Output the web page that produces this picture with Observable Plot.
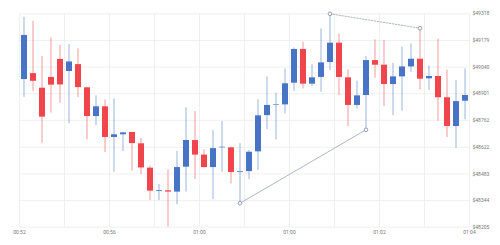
<!DOCTYPE html>
<html>
<head>
<meta charset="utf-8">
<script src="https://cdn.jsdelivr.net/npm/d3@7"></script>
<script src="https://cdn.jsdelivr.net/npm/@observablehq/plot@0.6"></script>
<style>
  html, body { margin: 0; padding: 0; background: #fff; }
  #chart { width: 500px; height: 245px; overflow: hidden; }
</style>
</head>
<body>
<div id="chart"></div>
<script>
// OHLC values for 50 candles
const opens  = [48975,49006,48930,48986,49080,49017,49053,48932,48782,48833,
                48673,48687,48699,48640,48513,48392,48395,48388,48518,48657,
                48581,48516,48619,48619,48490,48495,48598,48787,48840,48843,
                48956,49132,48951,48986,49064,49165,48984,48840,48892,49074,
                49050,48949,48989,49041,49081,48979,48991,48880,48730,48862];
const closes = [49205,48966,48779,48946,48947,49067,48933,48782,48833,48673,
                48687,48697,48641,48514,48393,48396,48388,48516,48657,48581,
                48516,48615,48622,48490,48494,48596,48786,48840,48843,48953,
                49132,48951,48984,49062,49165,48986,48840,48890,49074,49050,
                48949,48989,49041,49081,48977,48991,48880,48730,48860,48892];
const highs  = [49300,49278,49095,49191,49153,49158,49135,48935,48890,48869,
                48874,48699,48700,48667,48523,48428,48504,48600,48827,48808,
                48608,48709,48756,48622,48640,48605,48869,48989,48904,49031,
                49140,49170,49053,49239,49318,49213,49026,48966,49095,49182,
                49179,49060,49144,49161,49243,49046,49186,49024,48970,49031];
const lows   = [48883,48913,48643,48800,48852,48744,48880,48660,48735,48594,
                48492,48600,48497,48480,48344,48344,48205,48322,48388,48454,
                48514,48349,48492,48431,48330,48454,48501,48714,48660,48796,
                48913,48926,48939,48909,49022,48892,48730,48822,48713,48982,
                48834,48787,48810,49013,48921,48918,48758,48673,48617,48765];

// axis ticks
const yTicks = [48205,48344,48483,48622,48762,48901,49040,49179,49318];
const xTickLabels = ["00:52","00:56","01:00","01:00","01:02","01:04"];
const xTickPos = [-0.5, 9.5, 19.5, 29.5, 39.5, 49.5];      // candle-index positions of labels
const xGridPos = [-0.5,4.5,9.5,14.5,19.5,24.5,29.5,34.5,39.5,44.5,49.5];

// trend annotations (candle indices)
const supportIdx = [24, 38];     // solid line through lows
const resistIdx  = [34, 44];     // dotted line through highs

const data = opens.map((o, i) => ({
  i, open: o, close: closes[i], high: highs[i], low: lows[i],
  up: closes[i] >= o
}));

const BLUE = "#4874c6";
const RED = "#f0454c";
const ANN = "#9aa3b4";

const support = supportIdx.map(k => ({i: k, v: data[k].low}));
const resist  = resistIdx.map(k => ({i: k, v: data[k].high}));

const chart = Plot.plot({
  width: 500,
  height: 245,
  marginLeft: 19,
  marginRight: 31,
  marginTop: 13.3,
  marginBottom: 18.3,
  style: { fontFamily: "Roboto, 'Liberation Sans', sans-serif", fontSize: "5px", color: "#777", background: "#fff" },
  x: { type: "linear", domain: [-0.5, 49.5] },
  y: { domain: [48205, 49318] },
  marks: [
    Plot.ruleX(xGridPos, { stroke: "#ececec", strokeWidth: 0.8 }),
    Plot.ruleY(yTicks, { stroke: "#ececec", strokeWidth: 0.8 }),
    Plot.axisY({ anchor: "right", ticks: yTicks, tickSize: 0, tickPadding: 3, tickFormat: d => "$" + d, label: null, fontSize: 5 }),
    Plot.axisX({ anchor: "bottom", ticks: xTickPos, tickSize: 0, tickPadding: 3,
                 tickFormat: (d) => xTickLabels[xTickPos.indexOf(d)], label: null, fontSize: 5 }),
    Plot.ruleX(data, { x: "i", y1: "low", y2: "high", stroke: d => d.up ? BLUE : RED, strokeOpacity: 0.55, strokeWidth: 1 }),
    Plot.ruleX(data, { x: "i", y1: "open", y2: "close", stroke: d => d.up ? BLUE : RED, strokeWidth: 6 }),
    Plot.line(support, { x: "i", y: "v", stroke: ANN, strokeWidth: 0.8 }),
    Plot.line(resist, { x: "i", y: "v", stroke: ANN, strokeWidth: 0.8, strokeDasharray: "1.5,1.5" }),
    Plot.dot([...support, ...resist], { x: "i", y: "v", r: 1.8, stroke: "#7d879a", fill: "#fff", strokeWidth: 0.8 })
  ]
});
document.getElementById("chart").appendChild(chart);
</script>
</body>
</html>
